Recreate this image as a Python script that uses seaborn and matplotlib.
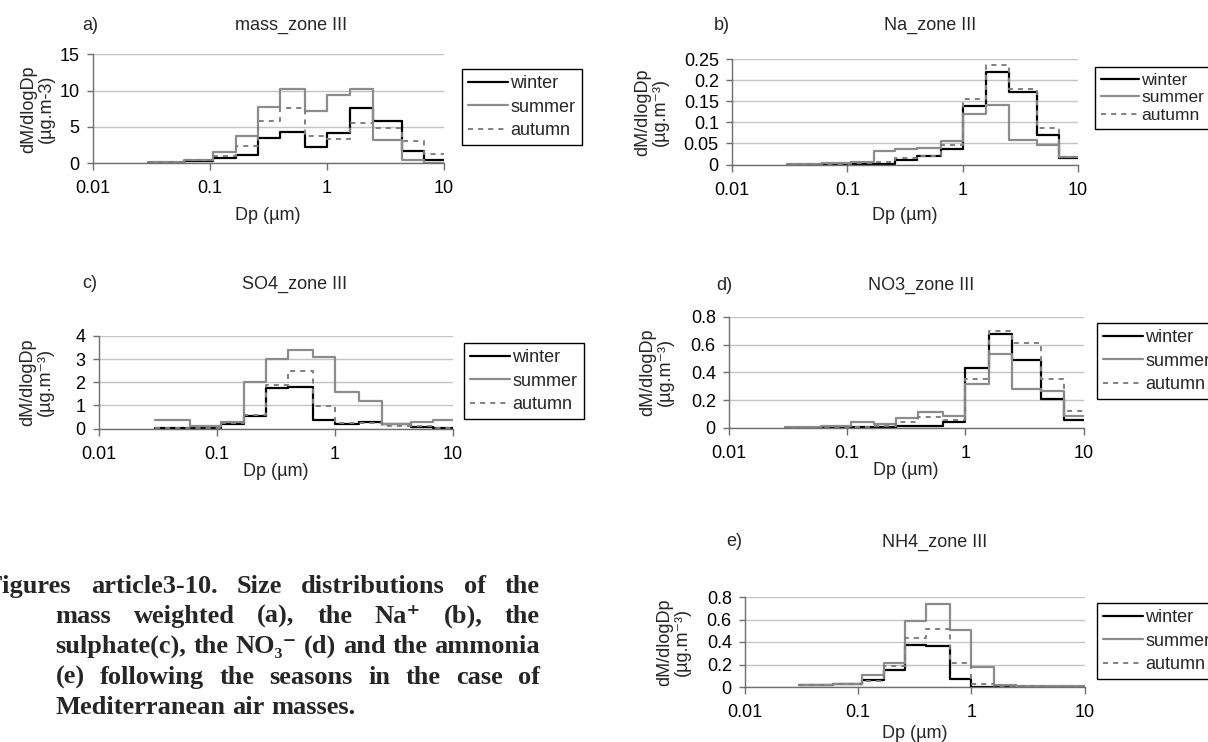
import numpy as np
import pandas as pd
import matplotlib
matplotlib.use("Agg")
import matplotlib.pyplot as plt
import seaborn as sns
from matplotlib.ticker import FixedLocator, FixedFormatter, NullLocator

# ---------------- data ----------------
edges = [0.03, 0.06, 0.108, 0.17, 0.26, 0.40, 0.65, 1.0, 1.6, 2.5, 4.4, 6.8, 10.0]
seasons = ["winter", "summer", "autumn"]

mass_winter = [0.1, 0.35, 0.7, 1.1, 3.5, 4.3, 2.2, 4.2, 7.6, 5.8, 1.7, 0.45]
mass_summer = [0.15, 0.4, 1.6, 3.7, 7.75, 10.2, 7.15, 9.45, 10.2, 3.2, 0.5, 0.0]
mass_autumn = [0.15, 0.4, 0.95, 2.35, 5.8, 7.55, 3.8, 3.3, 5.6, 4.9, 3.1, 1.25]

na_winter = [0.0, 0.0, 0.001, 0.001, 0.01, 0.021, 0.037, 0.139, 0.221, 0.172, 0.07, 0.016]
na_summer = [0.002, 0.004, 0.007, 0.031, 0.038, 0.04, 0.057, 0.12, 0.142, 0.058, 0.046, 0.018]
na_autumn = [0.001, 0.002, 0.004, 0.006, 0.015, 0.021, 0.046, 0.156, 0.236, 0.18, 0.086, 0.019]

so4_winter = [0.04, 0.03, 0.2, 0.53, 1.75, 1.8, 0.36, 0.2, 0.27, 0.19, 0.07, 0.02]
so4_summer = [0.36, 0.09, 0.29, 2.0, 3.0, 3.4, 3.08, 1.6, 1.2, 0.19, 0.29, 0.35]
so4_autumn = [0.04, 0.04, 0.25, 0.6, 1.9, 2.5, 0.98, 0.25, 0.22, 0.12, 0.1, 0.03]

no3_winter = [0.003, 0.005, 0.005, 0.007, 0.012, 0.012, 0.045, 0.43, 0.68, 0.49, 0.21, 0.055]
no3_summer = [0.005, 0.012, 0.045, 0.031, 0.072, 0.112, 0.084, 0.318, 0.535, 0.28, 0.265, 0.09]
no3_autumn = [0.003, 0.006, 0.01, 0.014, 0.04, 0.076, 0.055, 0.355, 0.70, 0.61, 0.35, 0.12]

nh4_winter = [0.015, 0.025, 0.065, 0.15, 0.376, 0.365, 0.074, 0.002, 0.001, 0.001, 0.001, 0.001]
nh4_summer = [0.02, 0.03, 0.107, 0.21, 0.59, 0.735, 0.507, 0.18, 0.02, 0.01, 0.008, 0.005]
nh4_autumn = [0.02, 0.025, 0.05, 0.19, 0.44, 0.515, 0.21, 0.03, 0.01, 0.005, 0.003, 0.002]

xtick_vals = [0.01, 0.1, 1, 10]
xtick_labels = ["0.01", "0.1", "1", "10"]

titles = ["mass_zone III", "Na_zone III", "SO4_zone III", "NO3_zone III", "NH4_zone III"]
tags = ["a)", "b)", "c)", "d)", "e)"]
ylabel_a = "dM/dlogDp\n(µg.m-3)"
ylabel_other = "dM/dlogDp\n(µg.m⁻³)"
xlabel = "Dp (µm)"

caption_lines = [
    "Figures article3-10. Size distributions of the",
    "mass weighted (a), the Na⁺ (b), the",
    "sulphate(c), the NO₃⁻ (d) and the ammonia",
    "(e) following the seasons in the case of",
    "Mediterranean air masses.",
]

# ---------------- style ----------------
sns.set_theme(style="white")
plt.rcParams["font.family"] = ["Liberation Sans", "DejaVu Sans"]

W, H = 1208, 742
fig = plt.figure(figsize=(W / 100, H / 100), dpi=100)
fig.patch.set_facecolor("white")

palette = {"winter": "black", "summer": "#8c8c8c", "autumn": "#808080"}
dashes = {"winter": "", "summer": "", "autumn": (2.6, 2.6)}

panels = [
    dict(data=(mass_winter, mass_summer, mass_autumn),
         yticks=[0, 5, 10, 15], ylabels=["0", "5", "10", "15"],
         rect=(92.5, 54.3, 443.5, 163.3), title=(291, 25), tag=(82, 25),
         ylab=(37.5, 109), xlab=(268, 215), leg=(462, 69), spacing=0.35, legfs=13,
         ylabel=ylabel_a),
    dict(data=(na_winter, na_summer, na_autumn),
         yticks=[0, 0.05, 0.1, 0.15, 0.2, 0.25],
         ylabels=["0", "0.05", "0.1", "0.15", "0.2", "0.25"],
         rect=(732, 59.3, 1078, 164.5), title=(930, 25), tag=(714, 25),
         ylab=(652, 112), xlab=(905, 215), leg=(1095, 67), spacing=0.12, legfs=12.5,
         ylabel=ylabel_other),
    dict(data=(so4_winter, so4_summer, so4_autumn),
         yticks=[0, 1, 2, 3, 4], ylabels=["0", "1", "2", "3", "4"],
         rect=(98.5, 336, 453, 428.5), title=(295, 284), tag=(82, 284),
         ylab=(37, 382), xlab=(276, 472), leg=(464, 343), spacing=0.35, legfs=13,
         ylabel=ylabel_other),
    dict(data=(no3_winter, no3_summer, no3_autumn),
         yticks=[0, 0.2, 0.4, 0.6, 0.8], ylabels=["0", "0.2", "0.4", "0.6", "0.8"],
         rect=(729, 317, 1083.5, 428), title=(921, 285), tag=(716, 285),
         ylab=(657, 372), xlab=(906, 470), leg=(1097, 323), spacing=0.35, legfs=13,
         ylabel=ylabel_other),
    dict(data=(nh4_winter, nh4_summer, nh4_autumn),
         yticks=[0, 0.2, 0.4, 0.6, 0.8], ylabels=["0", "0.2", "0.4", "0.6", "0.8"],
         rect=(745, 597, 1084.5, 687), title=(935, 542), tag=(726, 542),
         ylab=(673.5, 642), xlab=(915, 733), leg=(1097, 603), spacing=0.35, legfs=13,
         ylabel=ylabel_other),
]


def fpt(x, y):
    return (x / W, 1 - y / H)


axis_col = "#6e6e6e"
FS = 13

for i, p in enumerate(panels):
    l, t, r, b = p["rect"]
    ax = fig.add_axes([l / W, 1 - b / H, (r - l) / W, (b - t) / H])
    rows = []
    for s, vals in zip(seasons, p["data"]):
        ys = list(vals) + [vals[-1]]
        for x, y in zip(edges, ys):
            rows.append({"Dp": x, "value": y, "season": s})
    df = pd.DataFrame(rows)
    sns.lineplot(data=df, x="Dp", y="value", hue="season", style="season",
                 hue_order=seasons, style_order=seasons, palette=palette,
                 dashes=dashes, drawstyle="steps-post", linewidth=1.6,
                 errorbar=None, legend=False, ax=ax)
    lines = ax.get_lines()
    lines[2].set_linewidth(1.4)
    ax.set_xscale("log")
    ax.set_xlim(0.01, 10)
    ax.set_ylim(p["yticks"][0], p["yticks"][-1])
    ax.xaxis.set_major_locator(FixedLocator(xtick_vals))
    ax.xaxis.set_major_formatter(FixedFormatter(xtick_labels))
    ax.xaxis.set_minor_locator(NullLocator())
    ax.yaxis.set_major_locator(FixedLocator(p["yticks"]))
    ax.yaxis.set_major_formatter(FixedFormatter(p["ylabels"]))
    ax.grid(axis="y", color="#c4c4c4", linewidth=1.0)
    ax.grid(axis="x", visible=False)
    ax.set_axisbelow(True)
    for sp in ["top", "right"]:
        ax.spines[sp].set_visible(False)
    for sp in ["left", "bottom"]:
        ax.spines[sp].set_color(axis_col)
        ax.spines[sp].set_linewidth(1.0)
    ax.tick_params(axis="x", direction="out", length=5, width=1, color=axis_col,
                   labelsize=FS, pad=7.3, labelcolor="black", bottom=True)
    ax.tick_params(axis="y", direction="out", length=4, width=1, color=axis_col,
                   labelsize=FS, pad=5.5, labelcolor="black", left=True)
    ax.set_facecolor("white")

    ax.set_xlabel(xlabel, fontsize=FS)
    ax.xaxis.set_label_coords(*fpt(*p["xlab"]), transform=fig.transFigure)
    ax.xaxis.label.set_va("center")
    ax.set_ylabel(p["ylabel"], fontsize=FS, linespacing=1.05)
    ax.yaxis.set_label_coords(*fpt(*p["ylab"]), transform=fig.transFigure)
    ax.yaxis.label.set_va("center")
    ax.yaxis.label.set_ha("center")

    fig.text(*fpt(*p["title"]), titles[i], ha="center", va="center", fontsize=13)
    fig.text(*fpt(*p["tag"]), tags[i], ha="left", va="center", fontsize=13)

    leg = ax.legend(handles=lines, labels=seasons, loc="upper left",
                    bbox_to_anchor=fpt(*p["leg"]), bbox_transform=fig.transFigure,
                    borderaxespad=0, frameon=True, fancybox=False, shadow=False,
                    edgecolor="black", framealpha=1, fontsize=p["legfs"],
                    handlelength=2.2, handletextpad=0.12, borderpad=0.35,
                    labelspacing=p["spacing"])
    leg.get_frame().set_linewidth(1.0)

# ---------------- caption (justified) ----------------
fig.canvas.draw()
renderer = fig.canvas.get_renderer()
cap_fs = 19
cap_family = ["Liberation Serif", "DejaVu Serif"]
cap_specs = [(-13, 540, 593, True), (55.5, 540, 623, True), (55.5, 540, 653, True),
             (55.5, 540, 684, True), (55.5, 540, 714, False)]
for text, (x0, x1, yb, just) in zip(caption_lines, cap_specs):
    words = text.split(" ")
    ts = [fig.text(0, 1 - yb / H, w, fontsize=cap_fs, fontweight="bold",
                   family=cap_family, ha="left", va="baseline") for w in words]
    widths = [t.get_window_extent(renderer).width for t in ts]
    space = 0.25 * cap_fs * 100 / 72
    if just and len(words) > 1:
        gap = max((x1 - x0 - sum(widths)) / (len(words) - 1), 0.6 * space)
    else:
        gap = space
    x = x0
    for t, w in zip(ts, widths):
        t.set_x(x / W)
        x += w + gap

fig.savefig("out.png", dpi=100, facecolor="white")
